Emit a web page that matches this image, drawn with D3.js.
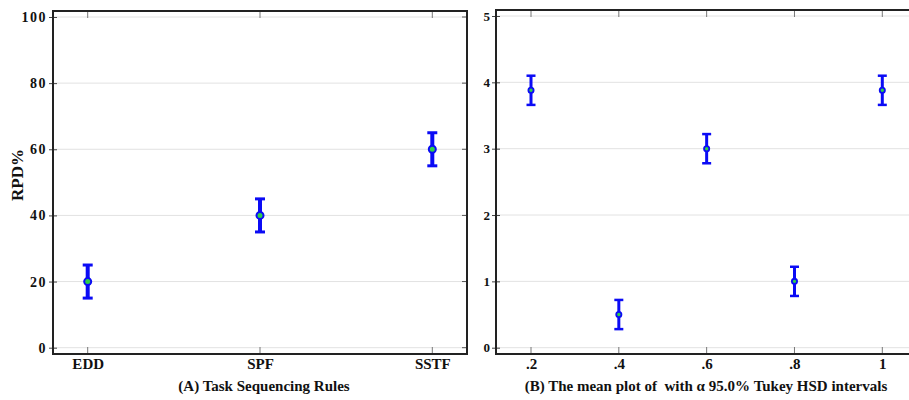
<!DOCTYPE html>
<html>
<head>
<meta charset="utf-8">
<script src="https://cdn.jsdelivr.net/npm/d3@7"></script>
<style>
  body { margin: 0; background: #fff; }
  svg text { font-family: "Liberation Serif", "Times New Roman", serif; font-weight: bold; fill: #111; white-space: pre; }
</style>
</head>
<body>
<div class="container"></div>
<script>
// panel A: task sequencing rules
const rules = ['EDD', 'SPF', 'SSTF'];
const rpdMean = [20, 40, 60];
const rpdLow = [15, 35, 55];
const rpdHigh = [25, 45, 65];
const yTicksA = [0, 20, 40, 60, 80, 100];

// panel B: mean plot with Tukey HSD intervals
const levels = [0.2, 0.4, 0.6, 0.8, 1.0];
const levelLabels = ['.2', '.4', '.6', '.8', '1'];
const bMean = [3.88, 0.5, 3.0, 1.0, 3.88];
const bLow = [3.66, 0.28, 2.78, 0.78, 3.66];
const bHigh = [4.10, 0.72, 3.22, 1.22, 4.10];
const yTicksB = [0, 1, 2, 3, 4, 5];

const width = 909, height = 400;

const svg = d3.select('.container')
    .append('svg')
    .attr('width', width)
    .attr('height', height)

// ---------- panel A ----------
const A = {left: 53, right: 467, top: 11, bottom: 354, ls: '1.5px', fs: '14px'}

const xA = d3.scalePoint()
    .domain(rules)
    .range([87.7, 432.3])

const yA = d3.scaleLinear()
    .domain([0, 100])
    .range([347.7, 17])

// ---------- panel B ----------
const B = {left: 496, right: 915, top: 10, bottom: 354, ls: '0px', fs: '13px'}

const xB = d3.scaleLinear()
    .domain([0.2, 1.0])
    .range([531, 882.3])

const yB = d3.scaleLinear()
    .domain([0, 5])
    .range([347.7, 16])

function drawPanel(p, x, xVals, xFmt, y, yTicks) {
    const g = svg.append('g')

    // grid
    g.selectAll('.grid')
        .data(yTicks)
        .enter()
        .append('line')
        .attr('x1', p.left)
        .attr('x2', p.right)
        .attr('y1', d => y(d))
        .attr('y2', d => y(d))
        .attr('stroke', '#e2e2e2')
        .attr('stroke-width', 1)

    // left axis
    const yAxis = d3.axisLeft(y).tickValues(yTicks).tickFormat(d3.format('d'))
        .tickSizeInner(4).tickSizeOuter(0).tickPadding(2)
    const ya = g.append('g')
        .attr('transform', `translate(${p.left}, 0)`)
        .call(yAxis)
    ya.select('.domain').remove()
    ya.selectAll('line').attr('stroke', '#444').attr('x2', 4).attr('x1', -4)
    ya.selectAll('text').style('font-size', p.fs).style('letter-spacing', p.ls)

    // right ticks (inside)
    g.selectAll('.rt')
        .data(yTicks)
        .enter()
        .append('line')
        .attr('x1', p.right - 5)
        .attr('x2', p.right)
        .attr('y1', d => y(d))
        .attr('y2', d => y(d))
        .attr('stroke', '#555')

    // bottom axis
    const xAxis = d3.axisBottom(x).tickSizeInner(0).tickSizeOuter(0).tickPadding(4)
    if (xVals) xAxis.tickValues(xVals).tickFormat(xFmt)
    const xa = g.append('g')
        .attr('transform', `translate(0, ${p.bottom})`)
        .call(xAxis)
    xa.select('.domain').remove()
    xa.selectAll('text').style('font-size', '15px')

    const xs = xVals ? xVals : x.domain()
    // bottom + top ticks (inside)
    g.selectAll('.bt')
        .data(xs)
        .enter()
        .append('line')
        .attr('x1', d => x(d))
        .attr('x2', d => x(d))
        .attr('y1', p.bottom)
        .attr('y2', p.bottom - 7)
        .attr('stroke', '#777')
    g.selectAll('.tt')
        .data(xs)
        .enter()
        .append('line')
        .attr('x1', d => x(d))
        .attr('x2', d => x(d))
        .attr('y1', p.top)
        .attr('y2', p.top + 7)
        .attr('stroke', '#777')

    // frame
    g.append('rect')
        .attr('x', p.left)
        .attr('y', p.top)
        .attr('width', p.right - p.left)
        .attr('height', p.bottom - p.top)
        .attr('fill', 'none')
        .attr('stroke', '#222')
        .attr('stroke-width', 2)

    return g
}

const gA = drawPanel(A, xA, null, null, yA, yTicksA)
const gB = drawPanel(B, xB, levels, (d, i) => levelLabels[i], yB, yTicksB)

// error bars A
const barsA = gA.selectAll('.eb')
    .data(rules)
    .enter()
    .append('g')

barsA.append('line')
    .attr('x1', d => xA(d))
    .attr('x2', d => xA(d))
    .attr('y1', (d, i) => yA(rpdLow[i]))
    .attr('y2', (d, i) => yA(rpdHigh[i]))
    .attr('stroke', '#0b0bf5')
    .attr('stroke-width', 4)

barsA.selectAll('.cap')
    .data((d, i) => [[d, rpdLow[i]], [d, rpdHigh[i]]])
    .enter()
    .append('line')
    .attr('x1', d => xA(d[0]) - 5)
    .attr('x2', d => xA(d[0]) + 5)
    .attr('y1', d => yA(d[1]))
    .attr('y2', d => yA(d[1]))
    .attr('stroke', '#0b0bf5')
    .attr('stroke-width', 3)

barsA.append('circle')
    .attr('cx', d => xA(d))
    .attr('cy', (d, i) => yA(rpdMean[i]))
    .attr('r', 3.5)
    .attr('fill', '#2fd04a')
    .attr('stroke', '#0b0bf5')
    .attr('stroke-width', 2)

// error bars B
const barsB = gB.selectAll('.eb')
    .data(levels)
    .enter()
    .append('g')

barsB.append('line')
    .attr('x1', d => xB(d))
    .attr('x2', d => xB(d))
    .attr('y1', (d, i) => yB(bLow[i]))
    .attr('y2', (d, i) => yB(bHigh[i]))
    .attr('stroke', '#0b0bf5')
    .attr('stroke-width', 3)

barsB.selectAll('.cap')
    .data((d, i) => [[d, bLow[i]], [d, bHigh[i]]])
    .enter()
    .append('line')
    .attr('x1', d => xB(d[0]) - 4.5)
    .attr('x2', d => xB(d[0]) + 4.5)
    .attr('y1', d => yB(d[1]))
    .attr('y2', d => yB(d[1]))
    .attr('stroke', '#0b0bf5')
    .attr('stroke-width', 2.5)

barsB.append('circle')
    .attr('cx', d => xB(d))
    .attr('cy', (d, i) => yB(bMean[i]))
    .attr('r', 2.6)
    .attr('fill', '#2fd04a')
    .attr('stroke', '#0b0bf5')
    .attr('stroke-width', 1.8)

// titles
svg.append('text')
    .attr('x', 264)
    .attr('y', 391)
    .attr('text-anchor', 'middle')
    .style('font-size', '15px')
    .text('(A) Task Sequencing Rules')

svg.append('text')
    .attr('x', 706)
    .attr('y', 391)
    .attr('text-anchor', 'middle')
    .style('font-size', '15px')
    .text('(B) The mean plot of  with α 95.0% Tukey HSD intervals')

svg.append('text')
    .attr('transform', 'translate(23, 175) rotate(-90)')
    .attr('text-anchor', 'middle')
    .style('font-size', '17px')
    .text('RPD%')
</script>
</body>
</html>
